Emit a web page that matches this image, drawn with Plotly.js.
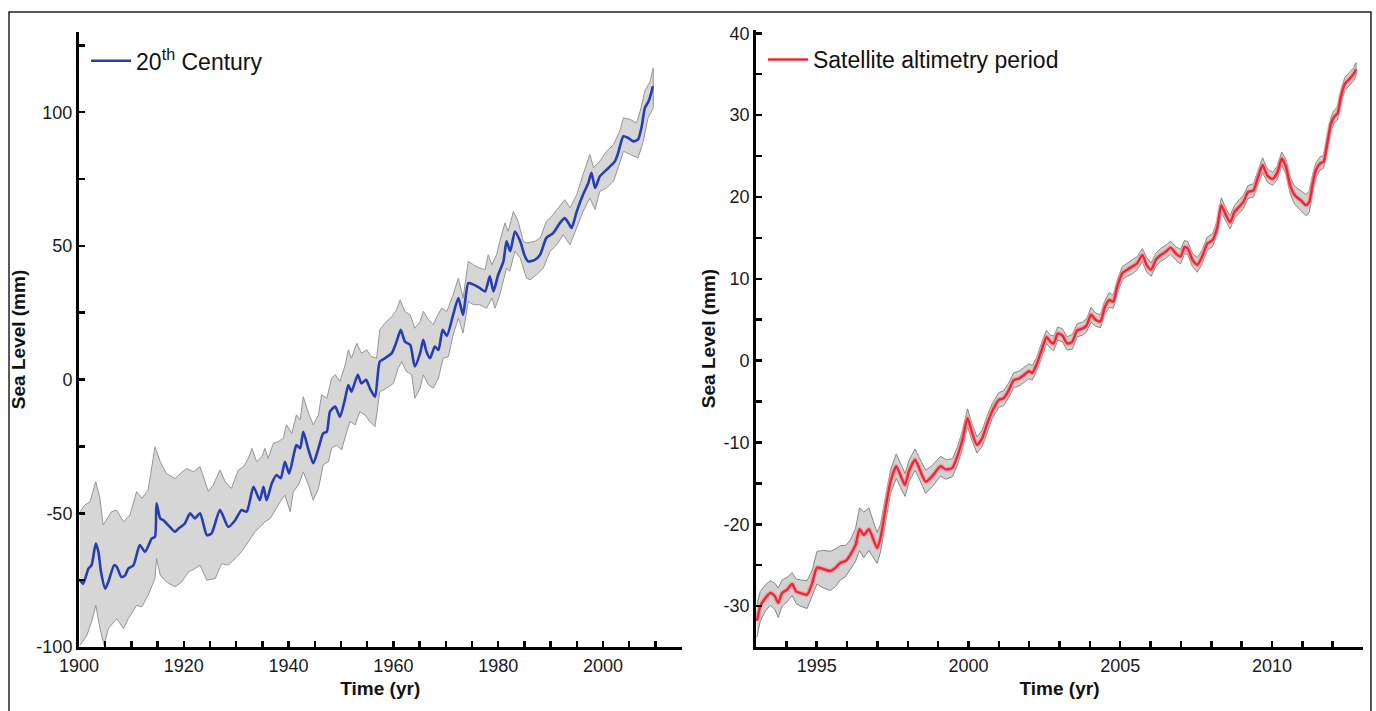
<!DOCTYPE html>
<html>
<head>
<meta charset="utf-8">
<script src="https://cdn.plot.ly/plotly-3.0.1.min.js"></script>
<style>
  html, body { margin: 0; padding: 0; background: #ffffff; }
  #chart { width: 1376px; height: 711px; }
</style>
</head>
<body>
<div id="chart"></div>
<script>
// ---------------- 20th century (left panel) ----------------
const years20 = [1900.2,1900.8,1901.8,1902.4,1903.2,1903.7,1904.2,1905,1905.6,1906.7,
  1907.2,1908.1,1908.8,1909.4,1910.4,1911.6,1912.6,1913.9,1914.5,1914.8,
  1915.5,1916.1,1917,1918.3,1919,1920.2,1921.2,1922.1,1923.1,1924.4,
  1925.3,1926.9,1928.5,1929.8,1931,1932,1933.3,1934.5,1935.2,1935.8,
  1936.8,1937.7,1938.5,1939.3,1940.1,1940.9,1941.5,1942.2,1942.8,1943.8,
  1944.7,1945.7,1946.6,1947.3,1947.9,1948.9,1949.8,1950.8,1951.4,1952,
  1953.2,1953.9,1954.8,1955.5,1956.5,1957.4,1958.4,1959.7,1960.6,1961.4,
  1962.2,1963.2,1964.1,1965.1,1965.7,1966.3,1967,1967.9,1968.6,1969.4,
  1970.2,1971.4,1972.4,1973.3,1974.3,1975.3,1976.5,1977.5,1978.4,1979.1,
  1980,1981,1981.6,1982.3,1983.2,1984.2,1985.1,1985.7,1987,1988,
  1989.2,1990.5,1991.8,1992.7,1993.4,1994,1995,1996.2,1997.2,1997.8,
  1998.5,1999.4,2000.7,2001.7,2002.3,2002.9,2003.9,2004.8,2005.8,2006.7,
  2007.4,2008,2008.7,2009.3,2009.5];
const level20 = [-75,-76.3,-70.7,-69.4,-61.3,-64.4,-71.9,-78.2,-75.6,-69.4,
  -70,-73.8,-73.2,-70.7,-69.4,-61.9,-64.4,-59.4,-58.8,-46.3,
  -51.9,-52.6,-54.4,-56.9,-55.7,-53.8,-50,-51.9,-50,-58.2,
  -57.5,-48.8,-55.1,-52.6,-48.8,-49.4,-40.1,-45.1,-40.1,-45.1,
  -38.8,-35.7,-36.9,-30.7,-35.1,-28.8,-24.5,-25.7,-19.5,-26.3,
  -31.3,-25.7,-20.1,-19.5,-12,-10.1,-13.9,-7,-2,-4.5,
  1.8,-1.4,-0.1,-3.2,-6.4,6.7,8,9.9,14.2,18.6,
  14.2,13,4.9,9.9,14.9,10.5,8,12.4,11.1,18.6,
  16.4,24.2,30.5,24.2,36.1,35.5,34.2,33,38.6,33,
  39.2,44.2,51.7,48,55.4,51.7,46.1,44.2,44.8,46.7,
  53,54.8,58.6,60.4,58.6,56.7,62.9,69.2,73.5,77.3,
  71.7,76,78.5,80.4,81.7,84.8,91,90.4,89.1,89.8,
  94.8,101.6,104.1,107.9,109.7];

const upperYears20 = [1900.2,1901.1,1902.1,1903.2,1904,1904.6,1906.2,1907.2,1908.5,1909.7,
  1911,1912,1913.2,1914.5,1915.5,1916.7,1918.3,1919.3,1920.5,1921.8,
  1923.1,1924.7,1925.6,1926.9,1927.9,1929.1,1930.4,1931.4,1932.3,1933,
  1933.9,1934.9,1935.5,1936.1,1937.1,1938,1939,1939.6,1940.6,1941.5,
  1942.2,1942.8,1943.8,1944.7,1945.7,1946.3,1947.3,1948.2,1948.9,1949.8,
  1950.8,1951.4,1952,1953,1953.9,1954.9,1955.8,1956.8,1957.4,1958.4,
  1959.7,1960.6,1961.3,1962.2,1963.2,1964.1,1965.1,1965.7,1966.7,1967.6,
  1968.3,1969.2,1970.2,1971.4,1972.4,1973.3,1974.3,1975.3,1976.5,1977.5,
  1978.1,1978.8,1979.7,1980.3,1981.3,1981.9,1982.9,1983.8,1984.8,1985.4,
  1987,1988,1989.2,1990.5,1991.8,1992.7,1993.7,1995,1996.2,1997.5,
  1998.2,1999.4,2000.7,2002,2003.2,2003.9,2005.2,2006.4,2007.1,2008,
  2009,2009.6];
const upper20 = [-49.4,-46.9,-45.7,-38.2,-44.4,-54.4,-49.4,-48.8,-53.2,-50.7,
  -41.9,-44.4,-41.3,-25.1,-30.7,-35.1,-37,-35.1,-33.2,-34.5,
  -32.6,-41.9,-39.5,-33.8,-38.2,-40.7,-33.8,-32.6,-29.5,-25.7,
  -30.7,-28.8,-25.7,-29.5,-23.8,-23.2,-21.9,-16.9,-20.1,-13.2,
  -15.1,-6.4,-12.6,-16.9,-13.2,-5.7,-7,0.5,1.8,-0.7,
  5.5,11.1,8,13.6,9.9,11.1,8.6,8,18.6,21.1,
  23.6,26.1,29.8,25.5,24.2,19.2,21.7,25.5,22.4,20.5,
  23.6,26.7,25.5,31.7,38,30.5,44.2,42.9,41.7,41.1,
  46.7,42.9,46.7,51.7,58.6,55.4,62.9,59.2,51.7,51.1,
  51.7,52.9,59.2,61.7,64.8,67.3,64.2,69.2,76.7,84.2,
  79.2,81.7,85.4,87.9,92.9,97.9,97.3,96,100.4,107.9,
  111.6,116.6];

const lowerYears20 = [1900.2,1901.5,1902.4,1903.2,1904,1904.8,1905.6,1907.2,1908.5,1909.4,
  1911,1912,1913.2,1914.5,1914.8,1915.5,1916.7,1918.3,1919.6,1920.9,
  1922.1,1923.1,1924.4,1926,1927.2,1928.5,1929.8,1931,1932.3,1933.6,
  1934.9,1935.5,1936.5,1937.4,1938.4,1939.3,1940.3,1940.9,1941.9,1942.8,
  1943.8,1944.7,1945.7,1946.6,1947.6,1948.2,1949.2,1950.1,1951.1,1951.7,
  1952.7,1953.6,1954.6,1955.5,1956.5,1957.4,1958.7,1960,1960.9,1961.6,
  1962.5,1963.5,1964.1,1965.1,1965.7,1966.7,1967.6,1968.6,1969.5,1970.5,
  1971.4,1972.4,1973.3,1974.3,1975.3,1976.5,1977.8,1978.8,1979.4,1980.3,
  1981.6,1982.2,1983.2,1984.2,1985.4,1986.1,1987.3,1988.6,1989.9,1991.2,
  1992.4,1993.7,1995,1996.2,1997.5,1998.5,1999.4,2000.7,2002,2002.9,
  2003.9,2005.2,2006.7,2007.7,2008.6,2009.6];
const lower20 = [-99.4,-95.6,-90.6,-84.4,-93.1,-99.4,-93.1,-89.4,-93.1,-89.4,
  -84.4,-85,-80.6,-74.4,-66.9,-73.1,-75.7,-77.5,-75.7,-71.9,
  -70.7,-69.4,-75,-74.4,-68.8,-69.4,-66.9,-64.4,-60.7,-56.9,
  -54.4,-53.2,-51.9,-48.8,-45.7,-43.2,-49.4,-41.9,-39.4,-34.5,
  -39.4,-45.1,-40.7,-31.9,-30.7,-25.7,-24.5,-26.3,-19.5,-15.7,
  -16.9,-12,-13.2,-15.7,-17.6,-4.5,-3.2,-1.4,4.2,6.7,
  3,1.8,-7,-3.2,1.8,-2,-3.2,0.5,8,8.6,
  16.7,23,17.4,29.2,28,28,26.7,30.5,26.7,31.7,
  41.7,40.5,48,45.5,38,37.3,39.2,41.7,48,50.4,
  54.2,50.4,56.7,62.9,67.9,63.6,70.4,71.7,74.2,79.2,
  85.4,84.2,82.9,89.1,97.9,101.6];

// ---------------- Satellite altimetry (right panel) ----------------
const satYears = [1993.03,1993.14,1993.31,1993.47,1993.62,1993.73,1993.86,1994.02,1994.19,1994.32,
  1994.46,1994.68,1994.85,1995.01,1995.23,1995.45,1995.62,1995.78,1995.95,1996.11,
  1996.28,1996.41,1996.55,1996.72,1996.85,1996.99,1997.1,1997.27,1997.43,1997.62,
  1997.76,1997.91,1998.04,1998.24,1998.37,1998.59,1998.81,1999.08,1999.25,1999.47,
  1999.63,1999.8,1999.97,2000.11,2000.28,2000.45,2000.61,2000.78,2001.0,2001.16,
  2001.33,2001.49,2001.66,2001.82,2001.99,2002.1,2002.24,2002.43,2002.57,2002.7,
  2002.81,2002.94,2003.09,2003.25,2003.42,2003.58,2003.75,2003.89,2004.04,2004.19,
  2004.35,2004.48,2004.63,2004.77,2004.9,2005.07,2005.23,2005.4,2005.56,2005.73,
  2005.87,2006.02,2006.17,2006.33,2006.5,2006.66,2006.83,2006.99,2007.12,2007.23,
  2007.38,2007.54,2007.7,2007.87,2008.04,2008.2,2008.33,2008.48,2008.62,2008.77,
  2008.92,2009.06,2009.21,2009.39,2009.54,2009.69,2009.85,2010.02,2010.18,2010.32,
  2010.46,2010.6,2010.75,2010.95,2011.12,2011.23,2011.34,2011.45,2011.59,2011.7,
  2011.83,2011.94,2012.05,2012.16,2012.27,2012.4,2012.55,2012.69,2012.77];
const satLevel = [-31.8,-30.0,-29.0,-28.4,-28.8,-29.6,-28.4,-28.0,-27.3,-28.2,
  -28.4,-28.6,-27.2,-25.3,-25.5,-25.7,-25.3,-24.7,-24.5,-23.7,
  -22.5,-20.6,-21.3,-20.6,-21.7,-22.9,-21.7,-18.0,-14.8,-12.9,
  -14.0,-15.2,-13.5,-12.1,-13.1,-14.8,-14.1,-12.9,-13.3,-13.1,
  -11.7,-9.7,-7.0,-8.7,-10.3,-9.5,-7.8,-6.2,-4.8,-4.6,
  -3.6,-2.4,-2.2,-1.8,-1.3,-1.5,-0.5,1.5,2.9,2.3,
  2.1,3.3,3.1,2.1,2.3,3.7,3.9,4.3,5.6,5.0,
  4.8,6.4,7.4,7.2,9.0,10.7,11.1,11.5,11.9,12.9,
  11.7,11.1,12.3,12.9,13.3,13.8,13.1,12.7,13.9,13.7,
  12.3,11.7,12.7,14.3,14.7,16.3,19.0,17.8,16.9,18.2,
  18.8,19.4,20.6,20.8,22.4,23.9,22.6,22.2,23.0,24.7,
  23.7,21.4,20.2,19.6,19.0,19.4,21.6,23.3,24.1,24.3,
  26.7,28.9,29.8,30.2,32.2,33.8,34.4,35.0,35.6];
const satUncert = [2.0,1.8,1.6,1.5,1.6,1.8,1.6,1.5,1.4,1.5,
  1.6,1.7,1.6,2.0,2.3,2.4,2.3,2.1,1.9,1.8,
  2.0,2.6,2.8,2.6,2.2,1.9,1.7,1.5,1.4,1.5,
  1.5,1.4,1.3,1.3,1.3,1.4,1.3,1.2,1.2,1.1,
  1.1,1.1,1.1,1.0,1.0,1.0,1.0,0.9,0.9,0.9,
  0.9,0.9,0.9,0.9,0.9,0.9,0.8,0.9,0.8,0.8,
  0.9,0.8,0.8,0.8,0.9,0.8,0.8,0.8,0.9,0.8,
  0.8,0.8,0.9,0.8,0.8,0.8,0.8,0.9,0.8,0.8,
  0.9,0.8,0.8,0.8,0.8,0.8,0.8,0.9,0.8,0.8,
  0.8,0.9,0.8,0.8,0.8,0.8,0.9,0.8,0.8,0.8,
  0.8,0.8,0.8,0.8,0.8,0.9,0.8,0.8,0.8,0.8,
  0.9,1.0,1.1,1.2,1.3,1.3,1.1,0.9,0.8,0.8,
  0.8,0.8,0.8,0.8,0.8,0.8,0.8,0.8,0.8];

// ---------------- tick labels ----------------
const leftXTicks = [1900, 1920, 1940, 1960, 1980, 2000];
const leftYTicks = [-100, -50, 0, 50, 100];
const rightXTicks = [1995, 2000, 2005, 2010];
const rightYTicks = [-30, -20, -10, 0, 10, 20, 30, 40];
const seriesNames = ['20<sup>th</sup> Century', 'Satellite altimetry period'];
const axisTitles = {x: 'Time (yr)', y: 'Sea Level (mm)'};

const labelText = v => String(v); // plain hyphen-minus like the original

// ---------------- traces ----------------
const band20 = {
  x: upperYears20.concat(lowerYears20.slice().reverse()),
  y: upper20.concat(lower20.slice().reverse()),
  type: 'scatter', mode: 'lines', fill: 'toself',
  fillcolor: 'rgb(214,214,214)',
  line: {color: 'rgb(150,150,150)', width: 1},
  hoverinfo: 'skip', showlegend: false, xaxis: 'x', yaxis: 'y'
};
const line20 = {
  x: years20, y: level20, type: 'scatter', mode: 'lines',
  name: seriesNames[0],
  line: {color: 'rgb(38,62,180)', width: 2.6, shape: 'spline', smoothing: 0.6},
  xaxis: 'x', yaxis: 'y', legend: 'legend'
};
const satUpper = satLevel.map((v, i) => v + satUncert[i]);
const satLower = satLevel.map((v, i) => v - satUncert[i]);
const bandSat = {
  x: satYears.concat(satYears.slice().reverse()),
  y: satUpper.concat(satLower.slice().reverse()),
  type: 'scatter', mode: 'lines', fill: 'toself',
  fillcolor: 'rgb(210,210,210)',
  line: {color: 'rgb(135,135,135)', width: 1},
  hoverinfo: 'skip', showlegend: false, xaxis: 'x2', yaxis: 'y2'
};
const haloSat = {
  x: satYears, y: satLevel, type: 'scatter', mode: 'lines',
  line: {color: 'rgba(245,150,155,0.7)', width: 5, shape: 'spline', smoothing: 0.6},
  hoverinfo: 'skip', showlegend: false, xaxis: 'x2', yaxis: 'y2'
};
const lineSat = {
  x: satYears, y: satLevel, type: 'scatter', mode: 'lines',
  name: seriesNames[1],
  line: {color: 'rgb(236,40,52)', width: 2.4, shape: 'spline', smoothing: 0.6},
  xaxis: 'x2', yaxis: 'y2', legend: 'legend2'
};

// ---------------- layout ----------------
const FONT = '"Liberation Sans", Arial, Helvetica, sans-serif';
const tickFont = {family: FONT, size: 18, color: '#1a1a1a'};
const titleFont = {family: FONT, size: 19, color: '#111', weight: 'bold'};

function axisBase(extra) {
  return Object.assign({
    showline: true, linewidth: 3, linecolor: '#000',
    ticks: 'inside', ticklen: 6, tickwidth: 2.5, tickcolor: '#000',
    showgrid: false, zeroline: false, tickfont: tickFont,
    fixedrange: true, tickmode: 'array'
  }, extra);
}

const layout = {
  width: 1376, height: 711,
  paper_bgcolor: '#ffffff', plot_bgcolor: 'rgba(0,0,0,0)',
  margin: {l: 79, r: 13, t: 30, b: 64},
  showlegend: true,
  xaxis: axisBase({
    domain: [0, 0.4693], range: [1900, 2015], anchor: 'y',
    tickvals: leftXTicks, ticktext: leftXTicks.map(labelText),
    minor: {tickmode: 'linear', tick0: 1900, dtick: 5, ticks: 'inside', ticklen: 6, tickwidth: 2.5, tickcolor: '#000', showgrid: false},
    title: {text: axisTitles.x, font: titleFont, standoff: 8}
  }),
  yaxis: axisBase({
    domain: [0, 0.9968], range: [-100, 130], anchor: 'x',
    tickvals: leftYTicks, ticktext: leftYTicks.map(labelText),
    minor: {tickmode: 'linear', tick0: 0, dtick: 25, ticks: 'inside', ticklen: 6, tickwidth: 2.5, tickcolor: '#000', showgrid: false},
    title: {text: axisTitles.y, font: titleFont, standoff: 6}
  }),
  xaxis2: axisBase({
    domain: [0.5273, 1], range: [1993, 2013], anchor: 'y2',
    tickvals: rightXTicks, ticktext: rightXTicks.map(labelText),
    minor: {tickmode: 'linear', tick0: 1993, dtick: 1, ticks: 'inside', ticklen: 6, tickwidth: 2.5, tickcolor: '#000', showgrid: false},
    title: {text: axisTitles.x, font: titleFont, standoff: 8}
  }),
  yaxis2: axisBase({
    domain: [0, 1], range: [-35, 40.4], anchor: 'x2',
    tickvals: rightYTicks, ticktext: rightYTicks.map(labelText),
    minor: {tickmode: 'linear', tick0: 0, dtick: 5, ticks: 'inside', ticklen: 6, tickwidth: 2.5, tickcolor: '#000', showgrid: false},
    title: {text: axisTitles.y, font: titleFont, standoff: 3}
  }),
  legend: {
    x: 0.0055, y: 0.985, xanchor: 'left', yanchor: 'top',
    bgcolor: 'rgba(0,0,0,0)', borderwidth: 0,
    font: {family: FONT, size: 23, color: '#111'}, itemwidth: 40
  },
  legend2: {
    x: 0.5327, y: 0.987, xanchor: 'left', yanchor: 'top',
    bgcolor: 'rgba(0,0,0,0)', borderwidth: 0,
    font: {family: FONT, size: 23, color: '#111'}, itemwidth: 40
  },
  shapes: [{
    type: 'rect', xref: 'paper', yref: 'paper',
    x0: -0.0545, x1: 1.0062, y0: -0.12, y1: 1.0292,
    line: {color: '#222', width: 1.5}, fillcolor: 'rgba(0,0,0,0)', layer: 'above'
  }]
};

Plotly.newPlot('chart', [band20, line20, bandSat, haloSat, lineSat], layout, {staticPlot: true, displayModeBar: false});
</script>
</body>
</html>
